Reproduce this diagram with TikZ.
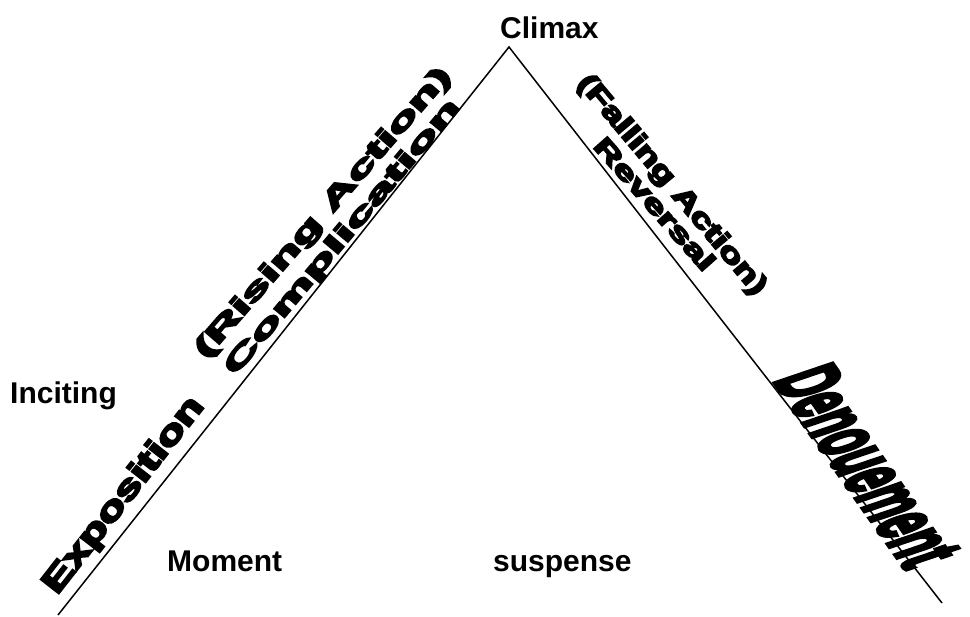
\documentclass[tikz,border=0pt]{standalone}
\usepackage{fontspec}
\setmainfont{Liberation Sans}
\newfontfamily\heavyfont[FakeBold=6]{Liberation Sans Bold}
\newcommand{\wordart}[3]{\resizebox{#1pt}{#2pt}{\heavyfont #3}}

\begin{document}
\begin{tikzpicture}[x=1pt,y=-1pt,
  plotword/.style={font=\fontsize{30}{36}\selectfont\bfseries, inner sep=0pt, anchor=base west},
  sidetext/.style={inner sep=0pt, anchor=base}]
  \useasboundingbox (0,0) rectangle (970,617);
  \coordinate (foot1) at (58,615);
  \coordinate (apex) at (509,47);
  \coordinate (foot2) at (942,603);
  \draw[line width=1.5pt] (foot1) -- (apex) -- (foot2);
  % plain labels
  \node[plotword] (climax) at (500,39) {Climax};
  \node[plotword] (inciting) at (10,404) {Inciting};
  \node[plotword] (moment) at (167,572) {Moment};
  \node[plotword] (suspense) at (493,572) {suspense};
  % stretched labels along the sides
  \node[sidetext, rotate=52] (expo) at (131,501) {\wordart{240}{24}{Exposition}};
  \node[sidetext, rotate=49] (rising) at (329,218) {\wordart{375}{20}{(Rising Action)}};
  \node[sidetext, rotate=50] (compl) at (348,242) {\wordart{351}{19}{Complication}};
  \node[sidetext, rotate=-50] (falling) at (666,190) {\wordart{278}{20}{(Falling Action)}};
  \node[sidetext, rotate=-48.5] (reversal) at (648,210) {\wordart{168}{19}{Reversal}};
  \node[inner sep=0pt, anchor=base west, xscale=1.44, rotate=-64] (denoue) at (773,380)
    {\wordart{212}{44}{Denouement}};
\end{tikzpicture}
\end{document}
